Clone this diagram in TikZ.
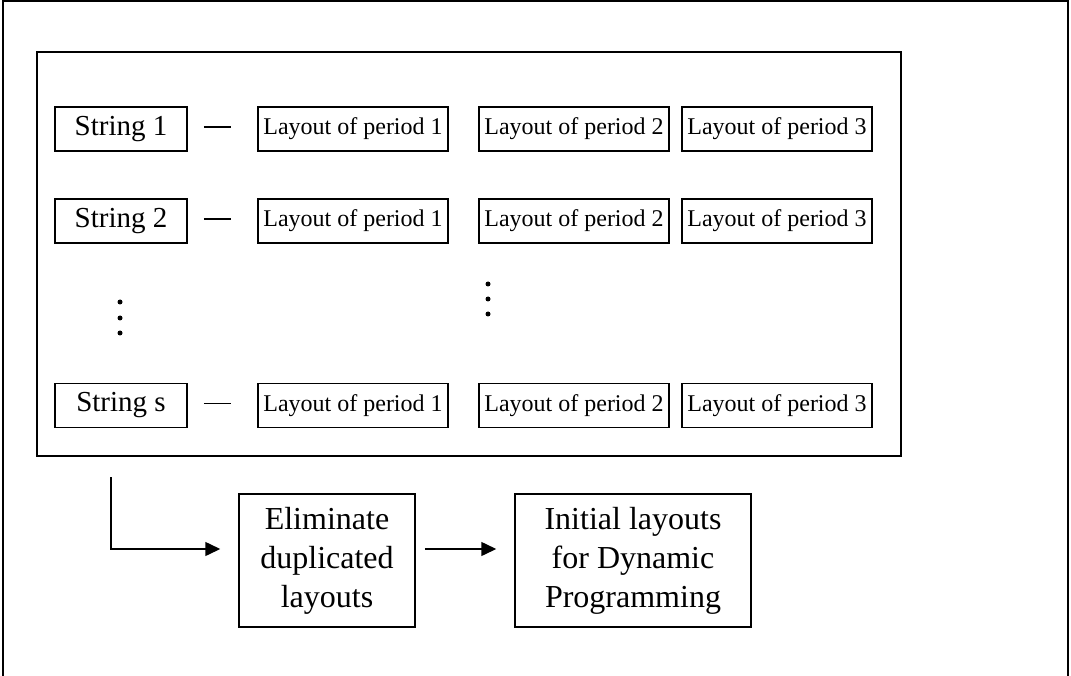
\documentclass[tikz,border=0pt]{standalone}
\usepackage{fontspec}
\setmainfont{Liberation Serif}
\usetikzlibrary{arrows.meta}
\tikzset{
  strbox/.style={draw, line width=1.5pt, minimum width=132pt, minimum height=44pt, inner sep=0pt, font=\fontsize{29}{34}\selectfont},
  laybox/.style={draw, line width=1.5pt, minimum width=190pt, minimum height=44pt, inner sep=0pt, font=\fontsize{24}{28}\selectfont},
  bigbox/.style={draw, line width=1.5pt, minimum height=133pt, inner sep=0pt, align=center, font=\fontsize{32}{39}\selectfont},
  shortline/.style={line width=1.5pt, shorten <=16pt, shorten >=26pt},
  arr/.style={line width=1.5pt, -{Triangle[length=15pt,width=14pt]}},
  dotc/.style={fill=black, circle, inner sep=0pt, minimum size=5pt}
}
\begin{document}
\begin{tikzpicture}[x=1pt,y=-1pt]
\useasboundingbox (0,0) rectangle (1071,676);
% outer frame
\draw[line width=2pt] (3,677) -- (3,1.5) -- (1068,1.5) -- (1068,677);
% inner frame
\node[draw, line width=1.5pt, minimum width=864pt, minimum height=404pt, inner sep=0pt] (frame) at (469,254) {};
% rows
\foreach \r/\y/\t in {1/129/1, 2/221/2, s/405.5/s} {
  \node[strbox] (s\r) at (121,\y) {String \t};
  \node[laybox] (a\r) at (353,\y) {Layout of period 1};
  \node[laybox] (b\r) at (574,\y) {Layout of period 2};
  \node[laybox] (c\r) at (777,\y) {Layout of period 3};
  \draw[shortline] ([yshift=2pt]s\r.east) -- ([yshift=2pt]a\r.west);
}
% dots
\node[dotc] (d1) at (120,302) {};
\node[dotc] (d2) at (120,318) {};
\node[dotc] (d3) at (120,333) {};
\node[dotc] (e1) at (488,284) {};
\node[dotc] (e2) at (488,299) {};
\node[dotc] (e3) at (488,314) {};
% bottom boxes
\node[bigbox, minimum width=176pt] (elim) at (327,560.5) {Eliminate\\duplicated\\layouts};
\node[bigbox, minimum width=236pt] (init) at (633,560.5) {Initial layouts\\for Dynamic\\Programming};
\coordinate (c0) at (111,477);
\draw[arr, shorten >=18pt] (c0) |- ([yshift=11.5pt]elim.west);
\draw[arr, shorten <=9pt, shorten >=18pt] ([yshift=11.5pt]elim.east) -- ([yshift=11.5pt]init.west);
\end{tikzpicture}
\end{document}
